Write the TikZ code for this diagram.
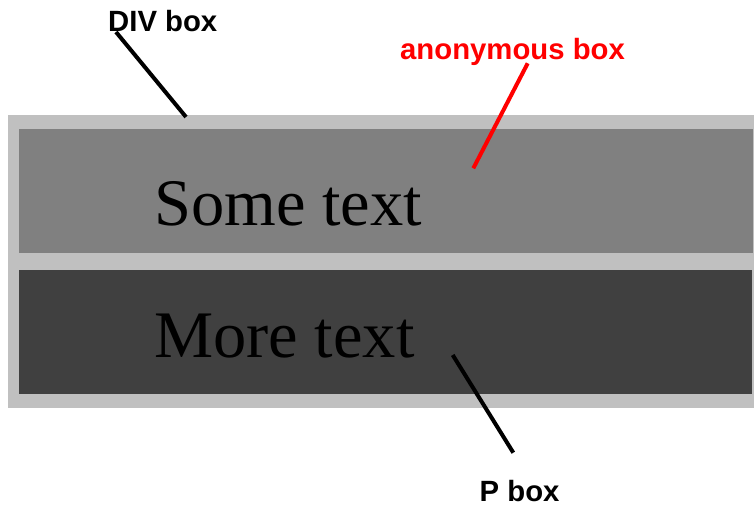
\documentclass[tikz,border=0pt]{standalone}
\usepackage{fontspec}
\setmainfont{Liberation Serif}
\newfontfamily\labelfont{Liberation Sans}
\definecolor{divgray}{HTML}{C0C0C0}
\definecolor{anongray}{HTML}{808080}
\definecolor{pgray}{HTML}{404040}
\tikzset{
  boxtext/.style={anchor=base west, inner sep=0pt, text=black, font=\fontsize{66.5pt}{70pt}\selectfont},
  lbl/.style={anchor=base west, inner sep=0pt, font=\labelfont\bfseries\fontsize{29.3pt}{30pt}\selectfont},
  pointer/.style={line width=4pt}
}
\begin{document}
\begin{tikzpicture}[x=1pt,y=1pt]
\useasboundingbox (0,0) rectangle (754,506);
% boxes
\node[fill=divgray, draw=none, inner sep=0pt, anchor=south west, minimum width=746pt, minimum height=293pt] (div) at (8,98) {};
\node[fill=anongray, draw=none, inner sep=0pt, anchor=south west, minimum width=733.5pt, minimum height=124pt] (anon) at (19,253) {};
\node[fill=pgray, draw=none, inner sep=0pt, anchor=south west, minimum width=733pt, minimum height=124pt] (pbox) at (19,112) {};
% texts
\node[boxtext] (t1) at (154,280) {Some text};
\node[boxtext] (t2) at (154,148) {More text};
% labels
\node[lbl] (ldiv) at (108,474.3) {DIV box};
\node[lbl, text=red] (lanon) at (400,446) {anonymous box};
\node[lbl] (lp) at (479.5,5) {P box};
% pointer ends
\coordinate (divA) at (116,474);
\coordinate (divB) at (186,389);
\coordinate (anonA) at (527.7,442.7);
\coordinate (anonB) at (473.3,337.7);
\coordinate (pA) at (452.7,151);
\coordinate (pB) at (513.3,53.3);
\draw[pointer] (divA) -- (divB);
\draw[pointer, red] (anonA) -- (anonB);
\draw[pointer] (pA) -- (pB);
\end{tikzpicture}
\end{document}
